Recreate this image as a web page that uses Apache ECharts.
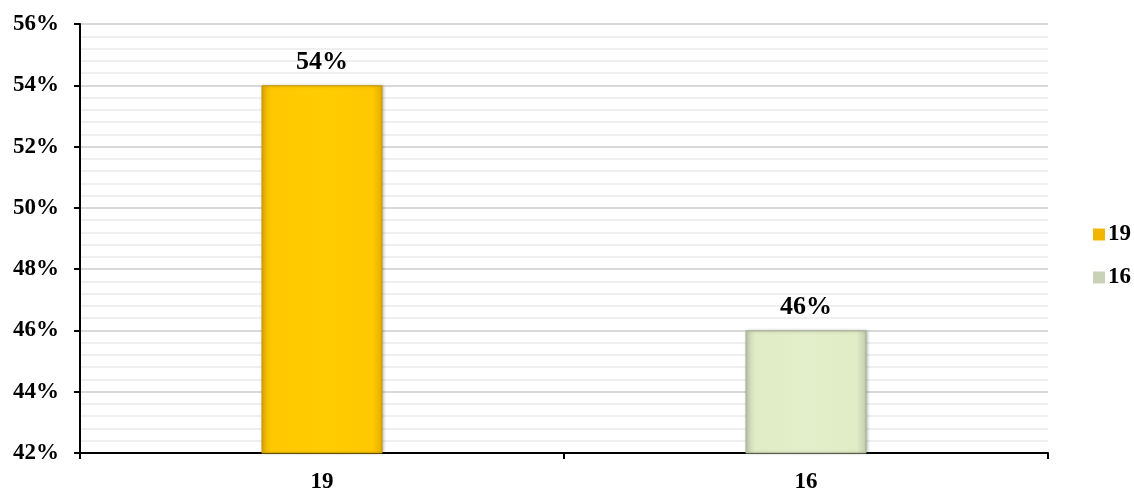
<!DOCTYPE html>
<html>
<head>
<meta charset="utf-8">
<style>
  html, body { margin: 0; padding: 0; background: #fff; }
  #chart { width: 1134px; height: 494px; }
</style>
<script src="https://cdn.jsdelivr.net/npm/echarts@6/dist/echarts.min.js"></script>
</head>
<body>
<div id="chart"></div>
<script>
// Categories and their shares (percent)
const categories = ['19', '16'];
const seriesNames = ['19', '16'];
const values = [54, 46];
const yMin = 42, yMax = 56, yStep = 2;

const FONT = '"Liberation Serif", "Times New Roman", serif';

// Bevelled-looking fills: darker edges, brighter middle
function fill(edge, mid, hi) {
  return new echarts.graphic.LinearGradient(0, 0, 1, 0, [
    { offset: 0, color: edge },
    { offset: 0.08, color: mid },
    { offset: 0.5, color: hi },
    { offset: 0.92, color: mid },
    { offset: 1, color: edge }
  ]);
}
const fills = [
  fill('#e6ae00', '#ffc800', '#ffcc00'),
  fill('#c3cdaf', '#dfecc6', '#e2efca')
];
const borders = ['#c99a00', '#a9b393'];
const legendIcons = ['#f2b600', '#c9d2b6'];

const series = seriesNames.map((name, i) => ({
  name: name,
  type: 'bar',
  barWidth: '25%',
  barGap: '-100%',
  data: categories.map((c, j) => (j === i ? values[i] : null)),
  itemStyle: {
    color: fills[i],
    borderColor: borders[i],
    borderWidth: 1,
    shadowColor: 'rgba(0,0,0,0.25)',
    shadowBlur: 3,
    shadowOffsetX: 1,
    shadowOffsetY: 0
  },
  label: {
    show: true,
    position: 'top',
    distance: 10,
    formatter: p => p.value + '%',
    fontFamily: FONT,
    fontWeight: 'bold',
    fontSize: 26,
    color: '#000'
  }
}));

const chart = echarts.init(document.getElementById('chart'));
chart.setOption({
  animation: false,
  backgroundColor: '#fff',
  grid: { left: 80, right: 86, top: 24, bottom: 38 },
  legend: {
    orient: 'vertical',
    left: 1088,
    top: 218,
    itemWidth: 12,
    itemHeight: 12,
    itemGap: 20,
    icon: 'rect',
    data: seriesNames.map((n, i) => ({ name: n, itemStyle: { color: legendIcons[i], borderWidth: 0, shadowBlur: 0 } })),
    textStyle: { fontFamily: FONT, fontWeight: 'bold', fontSize: 23, color: '#000', lineHeight: 23, padding: [0, 0, 0, -2] }
  },
  xAxis: {
    type: 'category',
    data: categories,
    axisLine: { lineStyle: { color: '#000', width: 2 } },
    axisTick: { show: true, length: 6, lineStyle: { color: '#000', width: 2 } },
    axisLabel: { margin: 18, fontFamily: FONT, fontWeight: 'bold', fontSize: 23, color: '#000' }
  },
  yAxis: {
    type: 'value',
    min: yMin,
    max: yMax,
    interval: yStep,
    axisLine: { show: true, lineStyle: { color: '#000', width: 2 } },
    axisTick: { show: true, length: 6, lineStyle: { color: '#000', width: 2 } },
    axisLabel: { margin: 21, formatter: v => v + '%', fontFamily: FONT, fontWeight: 'bold', fontSize: 23, color: '#000' },
    splitLine: { show: true, lineStyle: { color: '#d9d9d9', width: 2 } },
    minorTick: { show: false, splitNumber: 5 },
    minorSplitLine: { show: true, lineStyle: { color: '#efefef', width: 2 } }
  },
  series: series
});
</script>
</body>
</html>
